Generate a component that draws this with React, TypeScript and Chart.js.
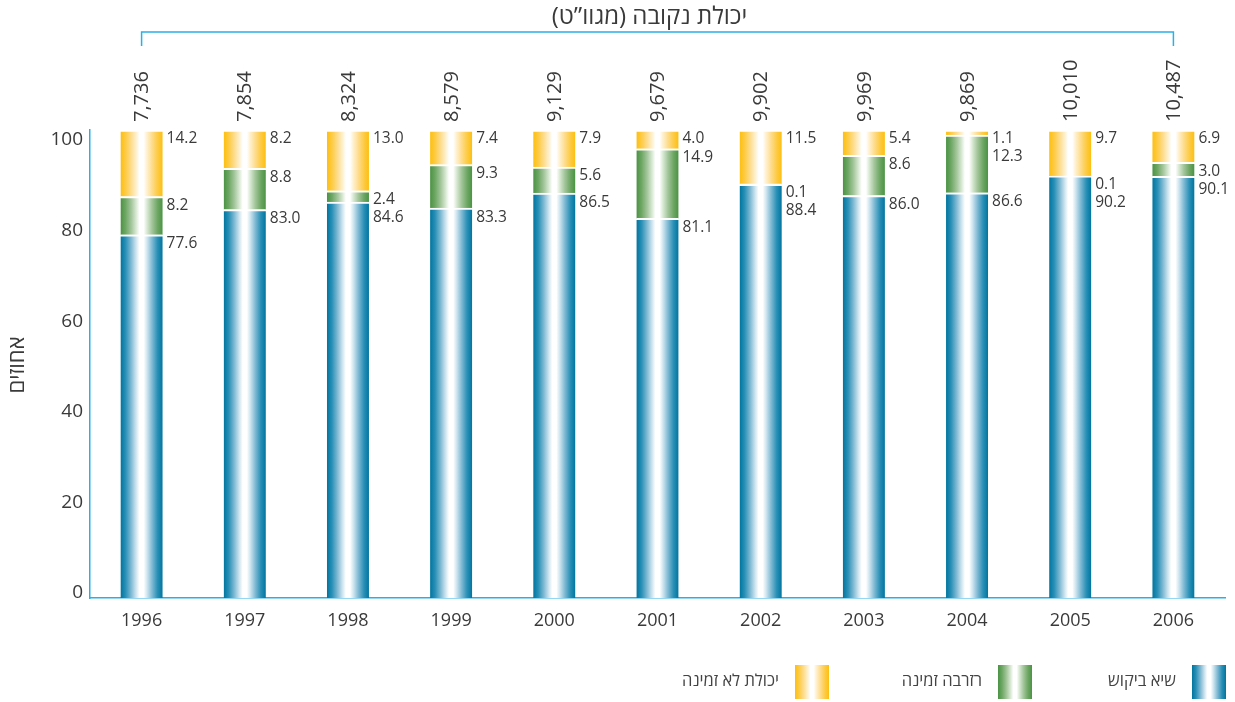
import React, { useEffect, useRef } from "react";
import { Chart, registerables } from "chart.js";

Chart.register(...registerables);

const years = ["1996", "1997", "1998", "1999", "2000", "2001", "2002", "2003", "2004", "2005", "2006"];
const peakDemand = [77.6, 83.0, 84.6, 83.3, 86.5, 81.1, 88.4, 86.0, 86.6, 90.2, 90.1];
const availableReserve = [8.2, 8.8, 2.4, 9.3, 5.6, 14.9, 0.1, 8.6, 12.3, 0.1, 3.0];
const unavailableCapacity = [14.2, 8.2, 13.0, 7.4, 7.9, 4.0, 11.5, 5.4, 1.1, 9.7, 6.9];
const installedCapacity = [7736, 7854, 8324, 8579, 9129, 9679, 9902, 9969, 9869, 10010, 10487];
const yTickValues = [0, 20, 40, 60, 80, 100];

const seriesNames = ["שיא ביקוש", "רזרבה זמינה", "יכולת לא זמינה"];
const topTitle = "יכולת נקובה (מגוו”ט)";
const yTitle = "אחוזים";

const FONT = "'Open Sans', 'Noto Sans', sans-serif";
const TEXT = "#3a3a3a";
const AXIS = "#29b0e6";
const BAR_W = 42;

const palettes: string[][] = [
  ["#00759f", "#2a90b7", "#7fb9d3", "#cfe5ef", "#ffffff"],
  ["#4a9343", "#6ea764", "#a2c59a", "#d8e8d3", "#ffffff"],
  ["#fdbf0f", "#fdcb45", "#fedc8c", "#fff0cc", "#ffffff"],
];

function makeGrad(ctx: CanvasRenderingContext2D, x0: number, x1: number, p: string[]) {
  const g = ctx.createLinearGradient(x0, 0, x1, 0);
  const pos = [0, 0.12, 0.25, 0.37, 0.45];
  for (let i = 0; i < 5; i++) {
    g.addColorStop(pos[i], p[i]);
    g.addColorStop(1 - pos[i], p[i]);
  }
  return g;
}

const seriesData = [peakDemand, availableReserve, unavailableCapacity];

const overlayPlugin = {
  id: "overlay",
  afterDraw(chart: any) {
    const ctx: CanvasRenderingContext2D = chart.ctx;
    const xs = chart.scales.x;
    const ys = chart.scales.y;
    ctx.save();
    // top title
    ctx.fillStyle = TEXT;
    ctx.font = `24px ${FONT}`;
    ctx.textAlign = "center";
    ctx.textBaseline = "middle";
    (ctx as any).direction = "rtl";
    const x0 = xs.getPixelForValue(0);
    const xN = xs.getPixelForValue(years.length - 1);
    ctx.fillText(topTitle, (x0 + xN) / 2 - 8, 17);
    (ctx as any).direction = "ltr";
    // bracket
    ctx.strokeStyle = AXIS;
    ctx.lineWidth = 1.5;
    ctx.beginPath();
    ctx.moveTo(x0, 46);
    ctx.lineTo(x0, 32);
    ctx.lineTo(xN, 32);
    ctx.lineTo(xN, 46);
    ctx.stroke();
    // capacity labels
    ctx.font = `20px ${FONT}`;
    ctx.fillStyle = TEXT;
    years.forEach((_, i) => {
      const cx = xs.getPixelForValue(i);
      ctx.save();
      ctx.translate(cx + 1, 122);
      ctx.rotate(-Math.PI / 2);
      ctx.textAlign = "left";
      ctx.textBaseline = "middle";
      ctx.fillText(installedCapacity[i].toLocaleString("en-US"), 0, 0);
      ctx.restore();
    });
    // segment labels
    ctx.font = `15.5px ${FONT}`;
    ctx.textAlign = "left";
    ctx.textBaseline = "middle";
    years.forEach((_, i) => {
      const cx = xs.getPixelForValue(i);
      let prev = -1000;
      let cum = 100;
      const order = [2, 1, 0];
      order.forEach((s) => {
        const top = ys.getPixelForValue(cum);
        const y = Math.max(top + 9, prev + 18);
        ctx.fillText(seriesData[s][i].toFixed(1), cx + BAR_W / 2 + 4, y);
        prev = y;
        cum -= seriesData[s][i];
      });
    });
    // y title
    ctx.save();
    ctx.translate(18, 365);
    ctx.rotate(-Math.PI / 2);
    ctx.font = `22px ${FONT}`;
    ctx.textAlign = "center";
    ctx.textBaseline = "middle";
    (ctx as any).direction = "rtl";
    ctx.fillText(yTitle, 0, 0);
    ctx.restore();
    // legend
    const legendX = [1192, 998, 795];
    ctx.font = `16.5px ${FONT}`;
    ctx.textBaseline = "middle";
    legendX.forEach((lx, s) => {
      ctx.fillStyle = makeGrad(ctx, lx, lx + 34, palettes[s]);
      ctx.fillRect(lx, 665, 34, 34);
      ctx.fillStyle = "#444";
      (ctx as any).direction = "rtl";
      ctx.textAlign = "right";
      ctx.fillText(seriesNames[s], lx - 16, 681);
      (ctx as any).direction = "ltr";
    });
    ctx.restore();
  },
};

export default function App() {
  const ref = useRef<HTMLCanvasElement | null>(null);
  useEffect(() => {
    document.body.style.margin = "0";
    const canvas = ref.current;
    if (!canvas) return;
    const mkBg = (s: number) => (c: any) => {
      const chart = c.chart;
      const xs = chart.scales && chart.scales.x;
      if (!xs || c.dataIndex === undefined) return palettes[s][0];
      const cx = xs.getPixelForValue(c.dataIndex);
      if (!Number.isFinite(cx)) return palettes[s][0];
      return makeGrad(chart.ctx, cx - BAR_W / 2, cx + BAR_W / 2, palettes[s]);
    };
    const chart = new Chart(canvas, {
      type: "bar",
      data: {
        labels: years,
        datasets: seriesData.map((d, s) => ({
          label: seriesNames[s],
          data: d,
          backgroundColor: mkBg(s),
          borderColor: "#ffffff",
          borderWidth: { top: 2, bottom: 0, left: 0, right: 0 },
          borderSkipped: false,
          barThickness: BAR_W,
        })),
      },
      options: {
        responsive: false,
        animation: false,
        layout: { padding: { top: 130, right: 10, left: 0, bottom: 0 } },
        plugins: { legend: { display: false }, tooltip: { enabled: false }, title: { display: false } },
        scales: {
          x: {
            stacked: true,
            grid: { display: false },
            border: { color: AXIS, width: 1.5 },
            ticks: { color: TEXT, font: { family: FONT, size: 18 }, padding: 4 },
            afterFit: (s: any) => {
              s.height = 104;
            },
          },
          y: {
            stacked: true,
            min: 0,
            max: 100,
            weight: 0,
            grid: { display: false },
            border: { color: AXIS, width: 1.5 },
            ticks: { display: false },
            afterFit: (s: any) => {
              s.width = 0;
            },
          },
          yLabels: {
            type: "linear",
            position: "left",
            weight: 1,
            min: -1.1,
            max: 102.2,
            grid: { display: false, drawTicks: false },
            border: { display: false },
            ticks: { color: TEXT, font: { family: FONT, size: 19 }, padding: 7 },
            afterBuildTicks: (s: any) => {
              s.ticks = yTickValues.map((v) => ({ value: v }));
            },
            afterFit: (s: any) => {
              s.width = 90;
            },
          },
        },
      } as any,
      plugins: [overlayPlugin],
    });
    return () => chart.destroy();
  }, []);
  return (
    <div style={{ width: 1235, height: 702 }}>
      <canvas ref={ref} width={1235} height={702} />
    </div>
  );
}
